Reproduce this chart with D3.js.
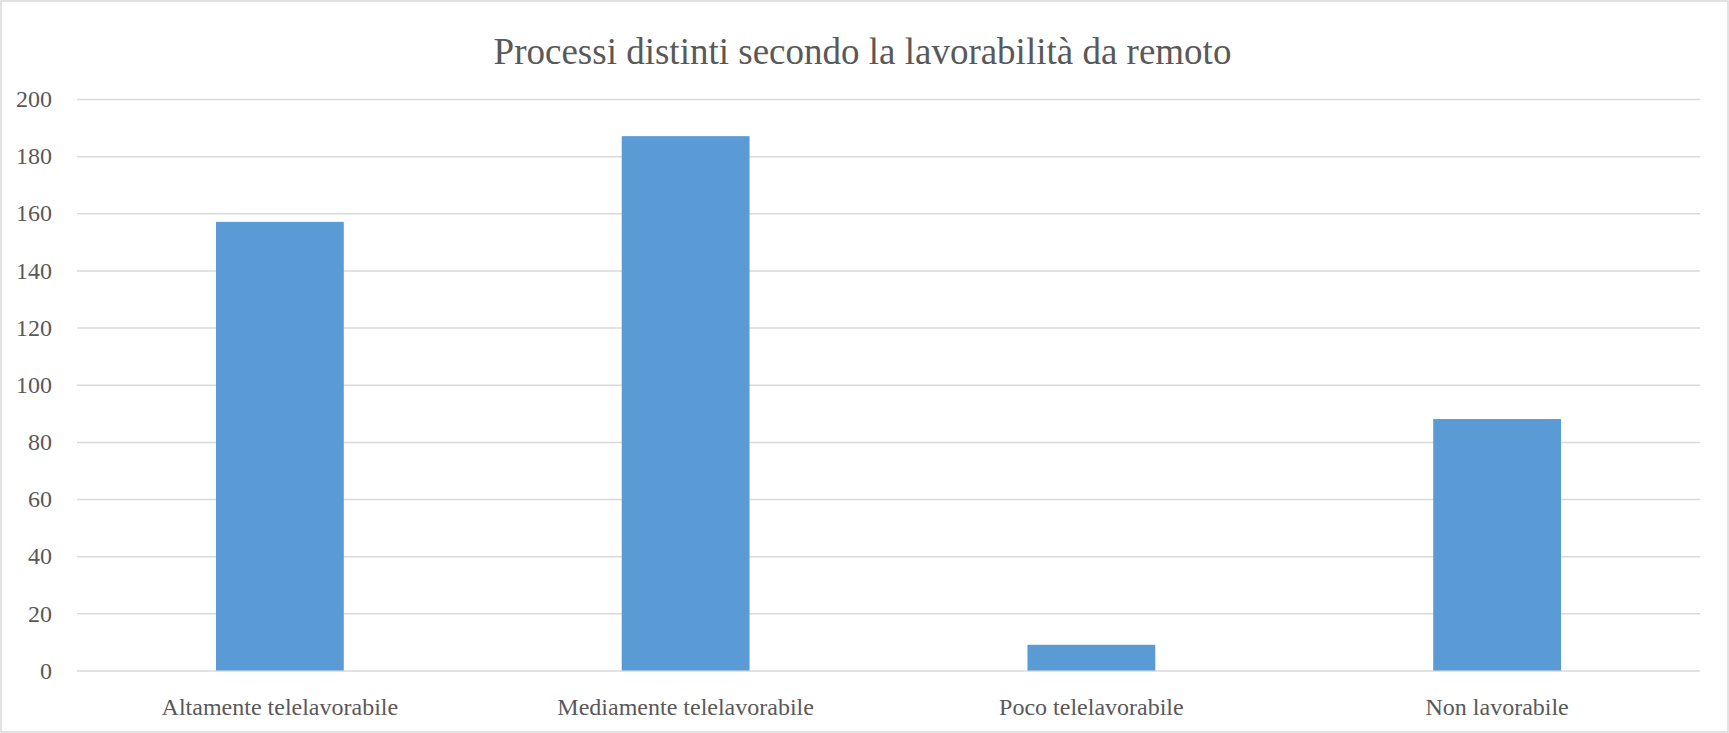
<!DOCTYPE html>
<html>
<head>
<meta charset="utf-8">
<script src="https://cdn.jsdelivr.net/npm/d3@7"></script>
<style>
    body { margin: 0; background: #fff; }
    svg { display: block; font-family: "Liberation Serif", "Times New Roman", serif; }
</style>
</head>
<body>
<svg id="chart"></svg>
<script>
const width = 1729, height = 733
const margin = {
    top: 99,
    bottom: 62.5,
    left: 77,
    right: 29,
}

const title = "Processi distinti secondo la lavorabilità da remoto"
const categories = ["Altamente telelavorabile", "Mediamente telelavorabile", "Poco telelavorabile", "Non lavorabile"]
const values = [157, 187, 9, 88]
const yTicks = [0, 20, 40, 60, 80, 100, 120, 140, 160, 180, 200]

const svg = d3.select("svg#chart")
    .attr("viewBox", [0, 0, width, height])
    .attr("width", width)
    .attr("height", height)

// chart border
svg.append("rect")
    .attr("x", 1).attr("y", 1)
    .attr("width", width - 2).attr("height", height - 2)
    .attr("fill", "#fff")
    .attr("stroke", "#d9d9d9")
    .attr("stroke-width", 1.5)

const xScale = d3.scaleBand()
    .domain(categories)
    .range([margin.left, width - margin.right])
    .paddingInner(0.685)
    .paddingOuter(0.3425)

const yScale = d3.scaleLinear()
    .domain([0, 200])
    .range([height - margin.bottom, margin.top])

// Y axis + gridlines
const yAxis = svg.append("g").classed("y-axis", true)
    .attr("transform", `translate(${margin.left}, 0)`)
    .call(d3.axisLeft(yScale)
        .tickValues(yTicks)
        .tickSize(-(width - margin.left - margin.right))
        .tickPadding(25))
yAxis.select(".domain").remove()
yAxis.selectAll("line").attr("stroke", "#d9d9d9").attr("stroke-width", 1.5)
yAxis.selectAll("text")
    .attr("fill", "#595959")
    .attr("font-size", 24)
    .style("font-family", "'Liberation Serif', 'Times New Roman', serif")

// Bars
svg.append("g").classed("bars", true)
    .selectAll("rect")
    .data(categories)
    .enter()
    .append("rect")
    .attr("x", d => xScale(d))
    .attr("y", (d, i) => yScale(values[i]))
    .attr("width", xScale.bandwidth())
    .attr("height", (d, i) => yScale(0) - yScale(values[i]))
    .attr("fill", "#5b9bd5")

// X axis labels
const xAxis = svg.append("g").classed("x-axis", true)
    .attr("transform", `translate(0, ${height - margin.bottom})`)
    .call(d3.axisBottom(xScale).tickSize(0).tickPadding(27))
xAxis.select(".domain").remove()
xAxis.selectAll("text")
    .attr("fill", "#595959")
    .attr("font-size", 24)
    .style("font-family", "'Liberation Serif', 'Times New Roman', serif")

// Title
svg.append("text")
    .attr("x", width / 2 - 2)
    .attr("y", 64)
    .attr("text-anchor", "middle")
    .attr("fill", "#595959")
    .attr("font-size", 37)
    .text(title)
</script>
</body>
</html>
